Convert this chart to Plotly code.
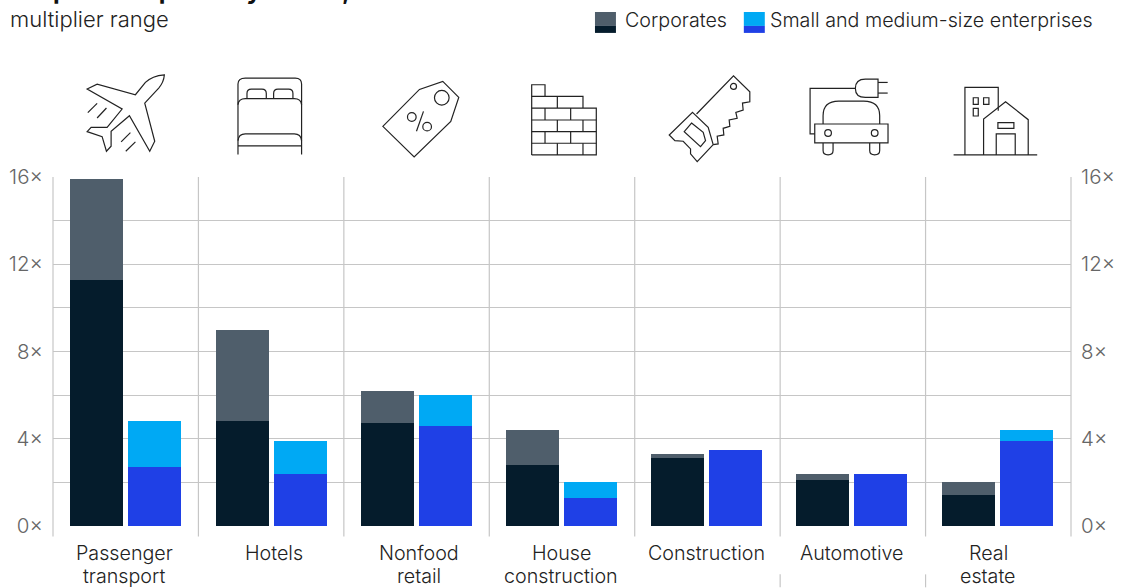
import re
import plotly.graph_objects as go

# Output multipliers by sector: low and high end of each range
sectors = ["Passenger<br>transport", "Hotels", "Nonfood<br>retail", "House<br>construction",
           "Construction", "Automotive", "Real<br>estate"]
corp_low = [11.3, 4.8, 4.7, 2.8, 3.1, 2.1, 1.4]
corp_high = [15.9, 9.0, 6.2, 4.4, 3.3, 2.4, 2.0]
sme_low = [2.7, 2.4, 4.6, 1.3, 3.5, 2.4, 3.9]
sme_high = [4.8, 3.9, 6.0, 2.0, 3.5, 2.4, 4.4]
label_nudge = [-0.01, 0.02, 0.02, 0.0, 0.0, 0.0, -0.06]
y_ticks = [0, 2, 4, 6, 8, 10, 12, 14, 16]
y_labels = ["0×", "", "4×", "", "8×", "", "12×", "", "16×"]

FONT = "Inter"
SIZE = 19.7
INK = "#222222"
GREY = "#666666"
GRID = "#c6c6c6"
CORP_DARK, CORP_LIGHT = "#051c2c", "#4f5e6b"
SME_DARK, SME_LIGHT = "#1f40e6", "#00a9f4"

W, H = 1124, 588
LEFT, RIGHT, TOP, BOTTOM = 52.5, 1071.5, 176.5, 526.5
PW, PH = RIGHT - LEFT, BOTTOM - TOP
BAR_W, BAR_OFF = 0.365, 0.1996
STEP = 145.33
FIRST = 125.5


def px(x):
    return (x - LEFT) / PW


def py(y):
    return (BOTTOM - y) / PH


def icon_paths(ox, oy, paths):
    """Turn outlines drawn on a 3x grid, anchored at (ox, oy), into paper-space shapes."""
    out = []
    for p in paths:
        d, is_x = "", True
        for tok in re.findall(r"[MLQCZ]|\d+\.?\d*", p):
            if tok in "MLQCZ":
                d += tok
                is_x = True
            else:
                v = float(tok) / 3
                d += f"{px(ox + v):.5f}," if is_x else f"{py(oy + v):.5f} "
                is_x = not is_x
        out.append(dict(type="path", path=d.strip(), xref="paper", yref="paper",
                        line=dict(color=INK, width=1.2), layer="above"))
    return out


def icon_circles(ox, oy, circles):
    return [dict(type="circle", xref="paper", yref="paper",
                 x0=px(ox + (c - r) / 3), x1=px(ox + (c + r) / 3),
                 y0=py(oy + (d + r) / 3), y1=py(oy + (d - r) / 3),
                 line=dict(color=INK, width=1.2), layer="above")
            for c, d, r in circles]


shapes = []

# Plane
shapes += icon_paths(0, 0, [
    "M492 222 Q455 225 435 245 L405 282 L290 250 L260 265 L365 325 L320 380 L272 380 L260 393 "
    "L305 408 L318 452 L332 437 L332 392 L387 345 L448 452 L463 422 L433 307 L475 262 Q490 245 492 222 Z",
    "M262 336 L290 308", "M290 352 L318 322", "M362 424 L390 396", "M376 452 L405 424",
])
# Bed
shapes += icon_paths(0, 0, [
    "M713 462 L713 250 Q713 232 735 232 L885 232 Q904 232 904 250 L904 462",
    "M740 294 L740 278 Q740 265 753 265 L785 265 Q798 265 798 278 L798 294",
    "M820 294 L820 278 Q820 265 833 265 L865 265 Q878 265 878 278 L878 294",
    "M713 312 Q715 294 735 294 L882 294 Q902 294 904 312",
    "M713 420 Q715 400 735 400 L882 400 Q902 400 904 420",
    "M713 436 L904 436",
])
# Price tag
shapes += icon_paths(360, 0, [
    "M68 377 L178 266 L248 242 L296 290 L272 362 L162 469 Z",
    "M190 332 L169 392",
])
shapes += icon_circles(360, 0, [(245, 291, 22), (155, 349, 13), (201, 378, 13)])
# Brick wall
shapes += icon_paths(360, 0, [
    "M515 463 L515 252 L555 252 L555 287",
    "M515 287 L669 287 L669 322",
    "M515 322 L709 322 L709 463 L515 463",
    "M515 358 L709 358", "M515 393 L709 393", "M515 428 L709 428",
    "M592 287 L592 322", "M555 322 L555 358", "M632 322 L632 358",
    "M592 358 L592 393", "M669 358 L669 393", "M555 393 L555 428", "M632 393 L632 428",
    "M592 428 L592 463", "M669 428 L669 463",
])
# Hand saw
shapes += icon_paths(660, 65, [
    "M110 145 L221 30 L270 78 L270 108 L248 112 L250 133 L228 140 L232 158 L208 163 L210 182 "
    "L190 188 L192 208 L172 212 L175 235 L160 237",
    "M98 140 L145 185 L160 237 L112 288 L92 265 L92 250 L70 227 L45 225 L28 208 Z",
    "M95 172 L130 200 L137 225 L122 243 L73 198 Z",
])
shapes += icon_circles(660, 65, [(221, 62, 9)])
# Electric car
shapes += icon_paths(724, 0, [
    "M273 370 L493 370 L493 427 L273 427 Z",
    "M298 370 L298 345 Q298 301 345 301 L420 301 Q468 301 468 345 L468 370",
    "M298 427 L298 450 Q298 463 313 463 Q328 463 328 450 L328 427",
    "M438 427 L438 450 Q438 463 453 463 Q468 463 468 450 L468 427",
    "M273 400 L259 400 L259 263 L395 263",
    "M463 235 L463 290 L425 290 Q395 290 395 263 Q395 235 425 235 Z",
    "M463 245 L492 245", "M463 277 L492 277",
])
shapes += icon_circles(724, 0, [(313, 397, 10), (453, 397, 10)])
# Buildings
shapes += icon_paths(724, 0, [
    "M690 463 L941 463",
    "M724 463 L724 260 L824 260 L824 330",
    "M780 463 L780 355 L846 303 L914 357 L914 463",
    "M749 291 L764 291 L764 311 L749 311 Z",
    "M780 291 L796 291 L796 311 L780 311 Z",
    "M749 323 L764 323 L764 346 L749 346 Z",
    "M823 366 L871 366 L871 383 L823 383 Z",
    "M818 463 L818 400 L875 400 L875 463",
])

# Column dividers, with their stubs under the axis
for k in range(8):
    shapes.append(dict(type="line", xref="paper", yref="paper", x0=k / 7, x1=k / 7,
                       y0=py(537), y1=1, line=dict(color=GRID, width=1.2), layer="below"))
for k in (5, 6):
    shapes.append(dict(type="line", xref="paper", yref="paper", x0=k / 7, x1=k / 7,
                       y0=py(575), y1=py(588), line=dict(color=GRID, width=1.2), layer="below"))

# Two-tone legend swatches
for x0, light, dark in ((595, CORP_LIGHT, CORP_DARK), (744, SME_LIGHT, SME_DARK)):
    shapes.append(dict(type="rect", xref="paper", yref="paper", x0=px(x0), x1=px(x0 + 21),
                       y0=py(25), y1=py(11), fillcolor=light, line_width=0))
    shapes.append(dict(type="rect", xref="paper", yref="paper", x0=px(x0), x1=px(x0 + 21),
                       y0=py(32), y1=py(25), fillcolor=dark, line_width=0))


def bars(values, colour, offset):
    return go.Bar(x=[i + offset for i in range(len(values))], y=values, width=BAR_W,
                  marker=dict(color=colour, line_width=0), hoverinfo="skip", showlegend=False)


fig = go.Figure()
fig.add_trace(bars(corp_high, CORP_LIGHT, -BAR_OFF))
fig.add_trace(bars(corp_low, CORP_DARK, -BAR_OFF))
fig.add_trace(bars(sme_high, SME_LIGHT, BAR_OFF))
fig.add_trace(bars(sme_low, SME_DARK, BAR_OFF))
# Carries the mirrored tick labels on the right-hand axis
fig.add_trace(go.Scatter(x=[0], y=[0], yaxis="y2", mode="markers", marker_opacity=0,
                         hoverinfo="skip", showlegend=False))


def text(x, y, s, size=SIZE, color=INK, weight=300, anchor="left"):
    return dict(x=px(x), y=py(y), xref="paper", yref="paper", text=s, showarrow=False,
                xanchor=anchor, yanchor="middle", borderpad=0,
                font=dict(family=FONT, size=size, color=color, weight=weight))


annotations = [
    text(8, -11, "Output multipliers by sector,", size=24.5, color="#111111", weight=700),
    text(8, 18, "multiplier range", size=22),
    text(624, 19.5, "Corporates"),
    text(769, 19.5, "Small and medium-size enterprises"),
]

# Category names, one annotation per line to hold the tight line spacing
for i, (name, nudge) in enumerate(zip(sectors, label_nudge)):
    for j, line in enumerate(name.split("<br>")):
        note = text(0, 553.5 + j * 23.5, line, anchor="center")
        note.update(x=i + nudge, xref="x")
        annotations.append(note)

axis_font = dict(family=FONT, size=20.5, color=GREY, weight=300)
y_common = dict(range=[0, 16], tickmode="array", tickvals=y_ticks, ticktext=y_labels,
                tickfont=axis_font, ticks="outside", ticklen=5, tickcolor="rgba(0,0,0,0)",
                showline=False, zeroline=False, automargin=False)

fig.update_layout(
    width=W, height=H, autosize=False,
    margin=dict(l=LEFT, r=W - RIGHT, t=TOP, b=H - BOTTOM, pad=0),
    paper_bgcolor="white", plot_bgcolor="white", barmode="overlay",
    bargap=0, font=dict(family=FONT, color=INK, weight=300),
    shapes=shapes, annotations=annotations,
    xaxis=dict(range=[-(FIRST - LEFT) / STEP, (RIGHT - FIRST) / STEP],
               showticklabels=False, ticks="", automargin=False,
               showgrid=False, zeroline=False, showline=False),
    yaxis=dict(side="left", showgrid=True, gridcolor=GRID, gridwidth=1.2, **y_common),
    yaxis2=dict(side="right", overlaying="y", showgrid=False, **y_common),
)

fig.write_html("out.html")
